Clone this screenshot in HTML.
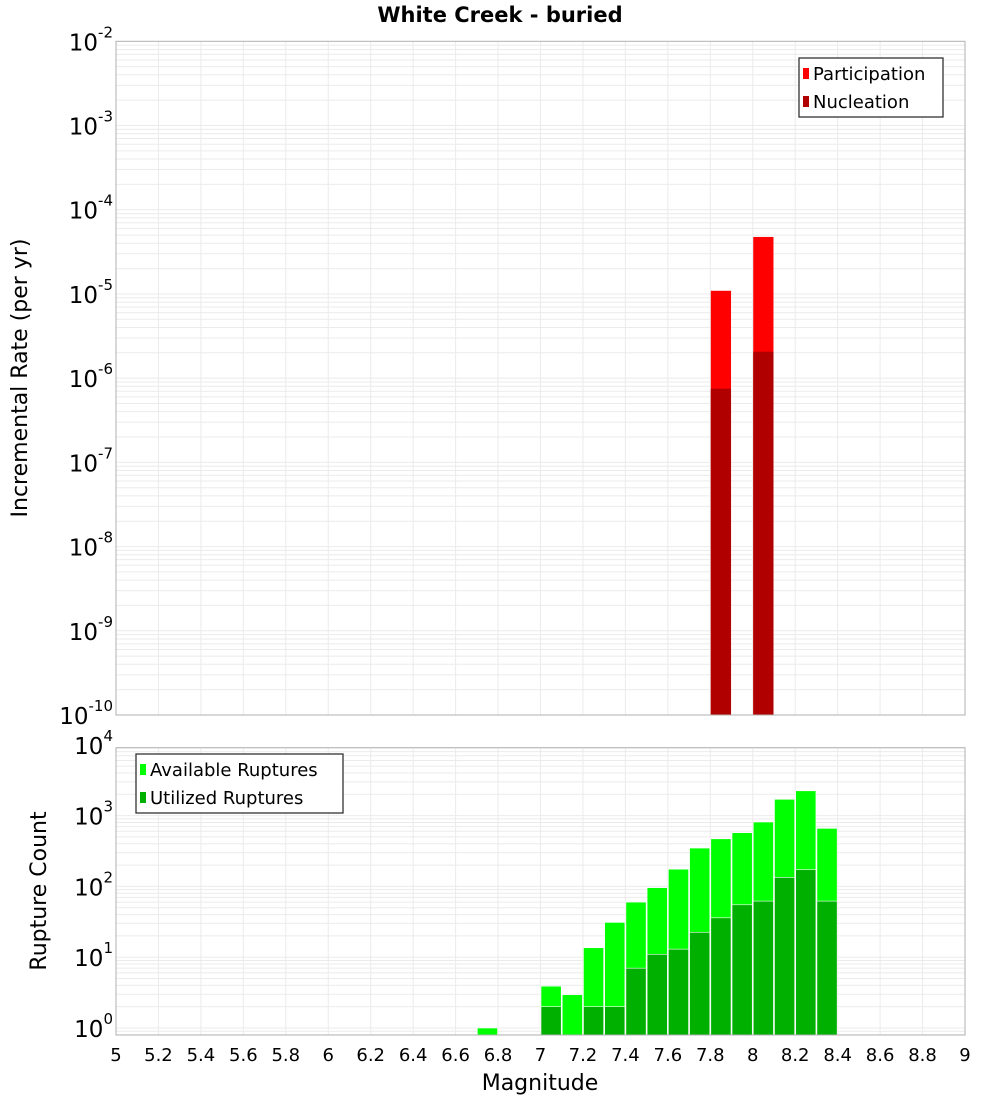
<!DOCTYPE html>
<html><head><meta charset="utf-8"><style>
body{margin:0;background:#fff;}
svg{display:block;font-family:"DejaVu Sans","Liberation Sans",sans-serif;}
</style></head><body>
<svg id="c" width="1000" height="1100" xmlns="http://www.w3.org/2000/svg">
<text x="500" y="22" text-anchor="middle" font-size="21" font-weight="bold">White Creek - buried</text>
<text transform="translate(27,378) rotate(-90)" text-anchor="middle" font-size="22">Incremental Rate (per yr)</text>
<text transform="translate(46,891) rotate(-90)" text-anchor="middle" font-size="22">Rupture Count</text>
<text x="540" y="1090" text-anchor="middle" font-size="22">Magnitude</text>
</svg>
<script>
const xTicks=[5,5.2,5.4,5.6,5.8,6,6.2,6.4,6.6,6.8,7,7.2,7.4,7.6,7.8,8,8.2,8.4,8.6,8.8,9];
const rateMags=[7.85,8.05];
const participation=[1.09e-5,4.75e-5];
const nucleation=[7.5e-7,2.06e-6];
const countMags=[6.75,7.05,7.15,7.25,7.35,7.45,7.55,7.65,7.75,7.85,7.95,8.05,8.15,8.25,8.35];
const available=[1,3.9,2.95,13.6,31,60,96,175,348,470,574,812,1700,2240,660];
const utilized=[0,2,0,2,2,7,11,13,22.5,36,55,62,134,172,62];
const topExps=[-2,-3,-4,-5,-6,-7,-8,-9,-10];
const botExps=[0,1,2,3,4];

const NS="http://www.w3.org/2000/svg";
const svg=document.getElementById('c');
function mk(t,a,p){const e=document.createElementNS(NS,t);for(const k in a)e.setAttribute(k,a[k]);(p||svg).appendChild(e);return e;}
const L=116,R=965;
const X=m=>L+(m-5)/4*(R-L);
const T0=41.3,T1=715;
const Ytop=v=>T0+(-2-Math.log10(v))*(T1-T0)/8;
const B0=747.7,B1=1035,BD=70.8,B1y=1028;
const Ybot=v=>B1y-Math.log10(v)*BD;

function grid(y0,y1,yf,expLo,expHi){
  const g=mk('g',{});
  
  
  for(let e=expLo;e<=expHi;e++)for(let k=1;k<10;k++){const y=yf(k*Math.pow(10,e));if(y>=y0-0.5&&y<=y1)mk('line',{x1:L,x2:R,y1:y,y2:y,stroke:'#ebebeb','stroke-width':1},g);}
  xTicks.forEach(t=>{const x=X(t);mk('line',{x1:x,x2:x,y1:y0,y2:y1,stroke:'#ebebeb','stroke-width':1},g);});
}
grid(T0,T1,Ytop,-10,-3);
grid(B0,B1,Ybot,-1,3);

// top bars
rateMags.forEach((m,i)=>{
  const x=X(m-0.05)+0.5,w=X(m+0.05)-X(m-0.05)-1;
  let y=Ytop(participation[i]);
  const b=mk('rect',{x:x,y:y,width:w,height:T1-y,fill:'#ff0000'});
  
  
  y=Ytop(nucleation[i]);
  const n=mk('rect',{x:x,y:y,width:w,height:T1-y,fill:'#b00000'});
  
  
});
// bottom bars
countMags.forEach((m,i)=>{
  const x=X(m-0.05)+0.5,w=X(m+0.05)-X(m-0.05)-1;
  if(available[i]>0){const y=Ybot(available[i]);
    const b=mk('rect',{x:x,y:y,width:w,height:B1-y,fill:'#00ff00',stroke:'#fff','stroke-width':0.6});
    
    }
  if(utilized[i]>0){const y=Ybot(utilized[i]);
    const b=mk('rect',{x:x,y:y,width:w,height:B1-y,fill:'#00b000',stroke:'#fff','stroke-width':0.6});
    
    }
});
// frames
const f1=mk('rect',{x:L,y:T0,width:R-L,height:T1-T0,fill:'none',stroke:'#b0b0b0'});


const f2=mk('rect',{x:L,y:B0,width:R-L,height:B1-B0,fill:'none',stroke:'#b0b0b0'});



function ylab(y,e,name){
  const t=mk('text',{x:113,y:y+9,'text-anchor':'end','font-size':23});
  
  
  t.innerHTML='10<tspan dy="-13" font-size="15">'+e+'</tspan>';
}
topExps.forEach(e=>ylab(Ytop(Math.pow(10,e)),e,'top-y-tick-label'));
botExps.forEach(e=>ylab(Ybot(Math.pow(10,e)),e,'bottom-y-tick-label'));
xTicks.forEach(t=>{
  const l=mk('text',{x:X(t),y:1061,'text-anchor':'middle','font-size':18});
  
  
  l.textContent=String(t);
});

function legend(x,y,w,items,name){
  const g=mk('g',{});
  
  
  mk('rect',{x:x,y:y,width:w,height:59,fill:'#fff',stroke:'#333','stroke-width':1.3},g);
  items.forEach((it,i)=>{
    mk('rect',{x:x+4,y:y+10+i*28,width:6,height:11,fill:it[1]},g);
    const t=mk('text',{x:x+14,y:y+22+i*28,'font-size':18},g);
    t.textContent=it[0];
  });
}
legend(799,58,144,[['Participation','#ff0000'],['Nucleation','#b00000']],'top-legend');
legend(136,754,207,[['Available Ruptures','#00ff00'],['Utilized Ruptures','#00b000']],'bottom-legend');
</script>
</body></html>
